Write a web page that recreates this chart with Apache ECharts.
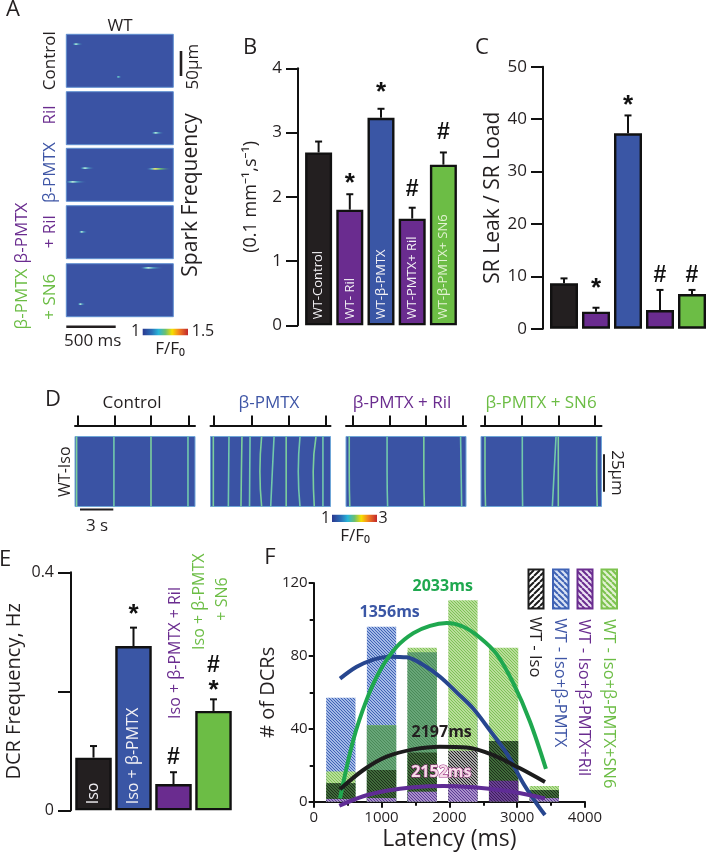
<!DOCTYPE html>
<html><head><meta charset="utf-8">
<style>html,body{margin:0;padding:0;background:#fff}#c{width:708px;height:853px}</style>
<script src="https://cdn.jsdelivr.net/npm/echarts@6/dist/echarts.min.js"></script>
</head><body><div id="c"></div>
<script>
// ---------- DATA ----------
const FONT = '"Open Sans","Noto Sans",sans-serif';
const BLACK='#231f20', PURPLE='#6a2c8f', BLUE='#3a56a5', GREEN='#6cbd45';
// Panel A: sparks [time ms, position um, length ms, peak F/F0]
const sparksControl=[[98,20,110,1.2],[526,86,50,1.08]];
const sparksRil=[[905,83,130,1.18]];
const sparksPmtx=[[189,40,150,1.2],[898,41.5,260,1.33],[65,67.6,220,1.2]];
const sparksPmtxRil=[[156,53,90,1.2]];
const sparksPmtxSn6=[[830,8.6,240,1.2],[142,81.5,80,1.18]];
// Panel B
const catsB=['WT-Control','WT- Ril','WT-β-PMTX','WT-PMTX+ Ril','WT-β-PMTX+ SN6'];
const valsB=[2.69,1.80,3.23,1.66,2.50];
const errB=[2.86,2.04,3.37,1.83,2.69];
const marksB=[[1,2.26,'*'],[2,3.68,'*'],[3,2.11,'#'],[4,3.0,'#']];
// Panel C
const catsC=['Control','Ril','β-PMTX','β-PMTX + Ril','β-PMTX + SN6'];
const valsC=[8.65,3.24,37.3,3.56,6.6];
const errC=[9.6,4.0,40.7,7.4,7.4];
const marksC=[[1,8.3,'*'],[2,43.3,'*'],[3,10.2,'#'],[4,10.2,'#']];
// Panel D: waves as [time s at top, mid, bottom]; ticks in s
const wavesControl=[[.15,.15,.15],[3.6,3.6,3.6],[7.03,7.03,7.03],[10.45,10.45,10.45]];
const wavesPmtx=[[.26,.26,.26],[1.71,1.68,1.65],[2.91,2.86,2.82],[3.66,3.63,3.61],[4.73,4.57,4.73],[5.88,5.72,5.57],[7,7,7],[8.28,8.12,8.28],[9.76,9.5,9.6],[10.4,10.4,10.4]];
const wavesRil=[[.3,.3,.35],[3.8,3.8,3.85],[7.2,7.2,7.25],[10.6,10.65,10.7]];
const wavesSn6=[[.37,.37,.42],[3.82,3.82,3.85],[7.15,7.15,7.15],[6.94,6.77,6.6],[10.7,10.7,10.75]];
const ticksControl=[.28,3.7,7.03,10.55];
const ticksPmtx=[.34,3.83,7.28,10.7];
const ticksRil=[.61,4.02,7.4,10.78];
const ticksSn6=[.37,3.76,7.15,10.54];
// Panel E
const catsE=['Iso','Iso + β-PMTX','Iso + β-PMTX + Ril','Iso + β-PMTX + SN6'];
const valsE=[.0885,.276,.044,.167];
const errE=[.108,.307,.064,.1865];
const marksE=[[1,.335,'*'],[2,.089,'#'],[3,.2067,'*'],[3,.2426,'#']];
// Panel F
const binsF=[400,1000,1600,2200,2800,3400];
const barBlue=[57,96,82,46,0,0];
const barGreen=[16.6,42,84.5,110.5,84.5,8.6];
const barOverlap=[0,42,82,0,0,0];
const barBlack=[10.2,17.4,27,28,33.3,6.4];
const barPurple=[1.5,2,5.5,9,11.5,2];
const curveGreen=[[388,1.8],[585,34],[781,56],[978,72],[1224,85],[1469,92.5],[1715,96.5],[1961,98],[2206,96],[2452,90],[2698,81],[2943,65],[3188,44],[3424,18]];
const curveBlue=[[388,67.5],[634,74],[880,78],[1125,79.6],[1371,79.2],[1617,75],[1862,68.6],[2108,60],[2354,51],[2600,39],[2845,26.5],[3091,10],[3287,-1],[3410,-7.3]];
const curveBlack=[[388,6.8],[732,17.4],[1076,24.7],[1469,28.7],[1862,30.2],[2255,29.8],[2648,25.6],[3041,18.3],[3410,10.8]];
const curvePurple=[[378,-2.2],[732,3],[1076,6],[1469,7.9],[1911,8.6],[2354,7.9],[2747,6.4],[3140,4],[3410,1.8]];
const notesF=[[1902,118,'2033ms','#1fa84f'],[1120,103.7,'1356ms',BLUE],[1887,37.9,'2197ms',BLACK],[1882,16.3,'2152ms','#f6dce8']];

// ---------- HELPERS ----------
const JET=[[0,'#2b3990'],[.2,'#2a6fb8'],[.35,'#29b6d8'],[.5,'#6cc070'],[.65,'#f5e000'],[.8,'#f58220'],[1,'#c1272d']];
const jetFill={type:'linear',x:0,y:0,x2:1,y2:0,colorStops:JET.map(s=>({offset:s[0],color:s[1]}))};
function hatch(period,lw,line,bg,back){
  const c=document.createElement('canvas');c.width=c.height=period;const g=c.getContext('2d');
  if(bg){g.fillStyle=bg;g.fillRect(0,0,period,period);}
  g.strokeStyle=line;g.lineWidth=lw;g.beginPath();
  for(let k=-1;k<=1;k++){
    if(back){g.moveTo(k*period,0);g.lineTo(k*period+period,period);}
    else{g.moveTo(k*period,period);g.lineTo(k*period+period,0);}
  }
  g.stroke();return {image:c,repeat:'repeat'};
}
const grids=[],xAxes=[],yAxes=[],series=[],graphics=[];
function addGrid(g,x,y){grids.push(g);x.gridIndex=grids.length-1;y.gridIndex=grids.length-1;xAxes.push(x);yAxes.push(y);return grids.length-1;}
function T(text,x,y,size,color,rot){
  graphics.push({type:'text',x,y,rotation:rot||0,silent:true,z:50,
    style:{text,fill:color||BLACK,font:'normal '+size+'px '+FONT,textAlign:'center',textVerticalAlign:'middle'}});
}
function R(x,y,w,h,fill,stroke,lw){
  graphics.push({type:'rect',silent:true,z:40,shape:{x,y,width:w,height:h},style:{fill,stroke:stroke||null,lineWidth:lw||0}});
}
const UP=Math.PI/2,DOWN=-Math.PI/2;

// ---------- PANEL A ----------
function sparkRender(params,api){
  const t=api.value(0),pos=api.value(1),len=api.value(2),f=api.value(3);
  const a=api.coord([t-len*.35,pos]),b=api.coord([t+len*.65,pos]);
  const core=f>1.3?'#e8e070':(f>1.15?'#b5e6d8':'#6fbcc0');
  return {type:'rect',shape:{x:a[0],y:a[1]-.9,width:b[0]-a[0],height:1.8},
     style:{fill:{type:'linear',x:0,y:0,x2:1,y2:0,colorStops:[
       {offset:0,color:'rgba(58,86,165,0)'},{offset:.22,color:'#5bb0c8'},{offset:.35,color:core},{offset:.55,color:f>1.3?'#6cc070':'#4f9fc0'},{offset:1,color:'rgba(58,86,165,0)'}]}}};
}
const rowsA=[[34.3,sparksControl],[91.7,sparksRil],[148.3,sparksPmtx],[205.7,sparksPmtxRil],[263.7,sparksPmtxSn6]];
rowsA.forEach(([top,sp])=>{
  const i=addGrid({show:true,left:66.3,top,width:107,height:53,backgroundColor:'#3a53a4',borderColor:'#5f8fd0',borderWidth:1},
    {type:'value',min:0,max:1083,show:false},{type:'value',min:0,max:107,inverse:true,show:false});
  series.push({type:'custom',xAxisIndex:i,yAxisIndex:i,renderItem:sparkRender,data:sp,encode:{x:0,y:1},silent:true,clip:true});
});
T('A',13,10,22);
T('WT',120,26,17);
T('Control',50,60.7,17,BLACK,UP);
T('Ril',50,115,17,PURPLE,UP);
T('β-PMTX',50,172.7,17,'#3f56a6',UP);
T('+ Ril',50,231.7,17,PURPLE,UP);
T('+ SN6',50,296.7,17,GREEN,UP);
T('β-PMTX',21.7,233,17,PURPLE,UP);
T('β-PMTX',21.7,299,17,GREEN,UP);
T('Spark Frequency',190.7,195,21,BLACK,UP);
R(179.7,51,2.6,25,BLACK);
T('50µm',192.7,66.7,17,BLACK,UP);
R(66.3,325.6,49.4,2.4,BLACK);
T('500 ms',92.7,340.7,17);
R(142.7,328.7,45.3,6.6,jetFill);
T('1',135.5,331,16);T('1.5',203,331,16);
T('F/F₀',170,349.5,17);

// ---------- BAR PANELS ----------
function errRender(params,api){
  const i=api.value(0),lo=api.coord([i,api.value(1)]),hi=api.coord([i,api.value(2)]);
  const st={stroke:'#111',lineWidth:2,fill:null};
  return {type:'group',children:[
    {type:'line',shape:{x1:lo[0],y1:lo[1],x2:lo[0],y2:hi[1]},style:st},
    {type:'line',shape:{x1:lo[0]-3.5,y1:hi[1],x2:lo[0]+3.5,y2:hi[1]},style:st}]};
}
function barPanel(o){
  const i=addGrid({left:o.left,top:o.top,width:o.width,height:o.height},
    {type:'category',data:o.cats,show:false},
    {type:'value',min:0,max:o.max,interval:o.interval,offset:o.offset,name:o.name,nameLocation:'middle',nameGap:o.nameGap,
     nameTextStyle:{fontFamily:FONT,fontSize:o.nameSize,color:BLACK},
     axisLine:{show:true,lineStyle:{color:'#111',width:2}},
     axisTick:{show:true,length:o.tick,lineStyle:{color:'#111',width:2}},
     axisLabel:{fontFamily:FONT,fontSize:o.tickSize,color:BLACK,margin:o.tick+4,formatter:o.fmt},
     splitLine:{show:false}});
  series.push({type:'bar',xAxisIndex:i,yAxisIndex:i,barWidth:o.barWidth,silent:true,
    data:o.vals.map((v,k)=>({value:v,itemStyle:{color:o.colors[k],borderColor:'#111',borderWidth:2.4},
      label:o.labels&&o.labels[k]?{show:true,position:'insideBottom',distance:6,rotate:90,align:'left',verticalAlign:'middle',
        color:o.colors[k]===GREEN?'#e3f2d3':'#f2f0f4',fontFamily:FONT,fontSize:o.labelSize,formatter:'{b}'}:{show:false}}))});
  series.push({type:'custom',xAxisIndex:i,yAxisIndex:i,renderItem:errRender,silent:true,clip:false,z:1,
    data:o.vals.map((v,k)=>[k,v,o.errs[k]]),encode:{x:0,y:[1,2]}});
  series.push({type:'scatter',xAxisIndex:i,yAxisIndex:i,symbolSize:1,silent:true,clip:false,itemStyle:{color:'transparent',opacity:1},
    data:o.marks.map(m=>({value:m,label:m[2]==='*'?{fontSize:26,offset:[0,4]}:{fontSize:23}})),
    label:{show:true,position:'inside',color:'#111',fontFamily:'"Liberation Sans"',fontWeight:'bold',
      formatter:p=>p.value[2]}});
}
const barColors=[BLACK,PURPLE,BLUE,PURPLE,GREEN];
barPanel({left:303,top:68.3,width:156,height:257,cats:catsB,max:4,interval:1,offset:5,name:'(0.1 mm⁻¹,s⁻¹)',nameGap:38,nameSize:18,tick:12,tickSize:17,
  barWidth:27,vals:valsB,errs:errB,marks:marksB,colors:barColors,labels:[1,1,1,1,1],labelSize:13});
barPanel({left:548,top:66.7,width:160,height:262,cats:catsC,max:50,interval:10,offset:5,name:'SR Leak / SR Load',nameGap:38,nameSize:21,tick:12,tickSize:17,
  barWidth:28,vals:valsC,errs:errC,marks:marksC,colors:barColors});
barPanel({left:73.5,top:572.3,width:160,height:238,cats:catsE,max:.4,interval:.2,offset:2.5,name:'DCR Frequency, Hz',nameGap:47,nameSize:20,tick:13,tickSize:16,
  fmt:v=>v===0?'0':(v>.3?'0.4':''),barWidth:36.5,vals:valsE,errs:errE,marks:marksE,colors:[BLACK,BLUE,PURPLE,GREEN],labels:[1,1,0,0],labelSize:16});
T('B',250,48,22);T('C',482,48,22);T('E',5,560,22);T('F',270,558,22);
T('Iso + β-PMTX + Ril',175,653,16,PURPLE,UP);
T('Iso + β-PMTX',199,601.7,16,GREEN,UP);
T('+ SN6',222.7,599,16,GREEN,UP);

// ---------- PANEL D ----------
const panelsD=[[75,120,wavesControl,ticksControl],[210.5,120,wavesPmtx,ticksPmtx],[346,120,wavesRil,ticksRil],[481,120.5,wavesSn6,ticksSn6]];
panelsD.forEach(([left,w,waves,ticks])=>{
  const i=addGrid({show:true,left,top:436.5,width:w,height:70,backgroundColor:'#3a53a4',borderColor:'#6fa6d8',borderWidth:1},
    {type:'value',position:'top',min:0,max:w/10.81,offset:11,axisLabel:{show:false},splitLine:{show:false},
     axisLine:{show:true,onZero:false,lineStyle:{color:'#111',width:2}},
     axisTick:{show:true,length:10,lineStyle:{color:'#111',width:2},customValues:ticks}},
    {type:'value',min:0,max:46.8,inverse:true,show:false});
  waves.forEach((wv,k)=>{
    const seg=[[wv[0],0],[wv[1],23.4],[wv[2],46.8]];
    series.push({type:'line',xAxisIndex:i,yAxisIndex:i,data:seg,smooth:true,symbol:'none',silent:true,
      lineStyle:{color:k%2?'#72c9ac':'#7ccf9c',width:1.6}});
  });
});
T('D',53,400,22);
T('Control',132,403,17);
T('β-PMTX',269,403,17,'#3f56a6');
T('β-PMTX + Ril',402,403,17,PURPLE);
T('β-PMTX + SN6',541,403,17,GREEN);
T('WT-Iso',65,471.7,16,BLACK,UP);
R(80,508.5,33.3,2,BLACK);
T('3 s',97,526.5,17);
R(332,514.7,45,7.3,jetFill);
T('1',325.6,518,16);T('3',383,518,16);
T('F/F₀',355,536.5,17);
R(603,454.3,2,37.4,BLACK);
T('25µm',616.7,473,17,BLACK,DOWN);

// ---------- PANEL F ----------
const fi=addGrid({left:313.7,top:583,width:271.3,height:218.7},
  {type:'value',min:0,max:4000,interval:1000,name:'Latency (ms)',nameLocation:'middle',nameGap:26,
   nameTextStyle:{fontFamily:FONT,fontSize:23,color:BLACK},
   axisLine:{onZero:false,lineStyle:{color:'#111',width:2}},
   axisTick:{length:6,lineStyle:{color:'#111',width:2}},minorTick:{show:true,splitNumber:2,length:4,lineStyle:{color:'#111',width:2}},
   axisLabel:{fontFamily:FONT,fontSize:15,color:BLACK,margin:9,formatter:v=>String(v)},splitLine:{show:false},minorSplitLine:{show:false}},
  {type:'value',min:0,max:120,interval:40,name:'# of DCRs',nameLocation:'middle',nameGap:34,
   nameTextStyle:{fontFamily:FONT,fontSize:20,color:BLACK},
   axisLine:{onZero:false,lineStyle:{color:'#111',width:2}},
   axisTick:{length:5,lineStyle:{color:'#111',width:2}},minorTick:{show:true,splitNumber:2,length:4,lineStyle:{color:'#111',width:2}},
   axisLabel:{fontFamily:FONT,fontSize:15,color:BLACK,margin:6},splitLine:{show:false},minorSplitLine:{show:false}});
function hist(vals,fill,fills){
  series.push({type:'bar',xAxisIndex:fi,yAxisIndex:fi,barWidth:29.3,barGap:'-100%',silent:true,
    data:binsF.map((b,k)=>({value:[b,vals[k]],itemStyle:{color:fills&&fills[k]||fill}}))});
}
hist(barBlue,hatch(3,1,'#3f62b5','#a3b9e6',true));
hist(barGreen,hatch(3,1,'#7dc356','#b9dd9a',true));
hist(barOverlap,hatch(3,1,'#4a8a58','#68a678',true));
const blackGreen=hatch(3,1,'#1d2f1a','#3f6a3a',true), blackGrey=hatch(3,1,'#222','#a8a8a8',true);
hist(barBlack,blackGreen,[0,0,0,blackGrey,0,0]);
const purpleLight=hatch(3,1,'#5a3a92','#a98fcb',true), purpleDark=hatch(3,1,'#3a1f5a','#6a3f92',true);
hist(barPurple,purpleLight,[0,0,0,0,purpleDark,0]);
function curve(data,color){
  series.push({type:'line',xAxisIndex:fi,yAxisIndex:fi,data,smooth:.35,symbol:'none',clip:false,silent:true,
    lineStyle:{color,width:4,cap:'butt'},z:5});
}
curve(curveBlue,'#27468f');curve(curveGreen,'#1fa84f');curve(curveBlack,'#1c1c1c');curve(curvePurple,'#5f2c95');
series.push({type:'scatter',xAxisIndex:fi,yAxisIndex:fi,symbolSize:1,silent:true,clip:false,z:6,itemStyle:{color:'transparent',opacity:1},
  data:notesF.map(n=>({value:[n[0],n[1],n[2]],label:{color:n[3],textBorderColor:n[2]==='2152ms'?'#a23c8c':'transparent',textBorderWidth:n[2]==='2152ms'?1.2:0}})),
  label:{show:true,position:'inside',fontFamily:FONT,fontWeight:'bold',fontSize:16,formatter:p=>p.value[2]}});
// legend patches
R(528.5,569.5,15,39,hatch(6,2,'#1c1c1c','#ffffff',false),'#1c1c1c',2);
R(553,569.5,15.5,39,hatch(6,2,'#3f62b5','#d9e3f5',true),'#3f62b5',2);
R(577.5,569.5,15,39,hatch(6,2,'#6a2c8f','#ece0f3',true),'#6a2c8f',2);
R(601.5,569.5,15.5,39,hatch(6,2,'#7cc24e','#e2f1d3',true),'#7cc24e',2);
T('WT - Iso',535,647,16.5,BLACK,DOWN);
T('WT - Iso+β-PMTX',560,682.7,16.5,'#3f56a6',DOWN);
T('WT - Iso+β-PMTX+Ril',584,697.7,16.5,PURPLE,DOWN);
T('WT - Iso+β-PMTX+SN6',608.3,703.7,16.5,GREEN,DOWN);

// ---------- CHART ----------
const chart=echarts.init(document.getElementById('c'),null,{renderer:'canvas'});
chart.setOption({animation:false,backgroundColor:'#fff',grid:grids,xAxis:xAxes,yAxis:yAxes,series,graphic:graphics,
  textStyle:{fontFamily:FONT},tooltip:{show:false}});
</script></body></html>
